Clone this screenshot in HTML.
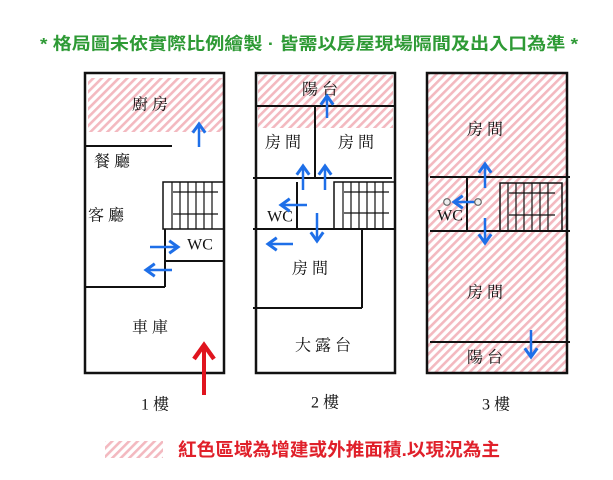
<!DOCTYPE html>
<html><head><meta charset="utf-8"><style>
html,body{margin:0;padding:0;background:#fff;width:613px;height:480px;overflow:hidden}
svg{display:block}
.t{font-family:"Liberation Serif","Noto Serif CJK SC","Noto Sans CJK TC",serif;font-size:16px;fill:#111;text-anchor:middle;dominant-baseline:central}
</style></head><body>
<svg width="613" height="480" viewBox="0 0 613 480" xmlns="http://www.w3.org/2000/svg">
<defs>
<pattern id="h" width="6" height="6" patternUnits="userSpaceOnUse" patternTransform="rotate(45)">
<rect width="6" height="6" fill="#fff"/><rect width="2.6" height="6" fill="#f3b9c0"/>
</pattern>
<marker id="ab" markerWidth="6" markerHeight="6" refX="4" refY="3" orient="auto" markerUnits="strokeWidth"><path d="M0.5,0.5 L4,3 L0.5,5.5" fill="none" stroke="#1e6fe8" stroke-width="1.2"/></marker>
<marker id="ar" markerWidth="6" markerHeight="6" refX="4" refY="3" orient="auto" markerUnits="strokeWidth"><path d="M0.5,0.5 L4,3 L0.5,5.5" fill="none" stroke="#e0141e" stroke-width="1.1"/></marker>
</defs>
<text x="40" y="44" dominant-baseline="central" font-family="Liberation Sans,'Noto Sans CJK TC',sans-serif" font-size="17" font-weight="bold" fill="#2e9a35" textLength="538" lengthAdjust="spacingAndGlyphs">* 格局圖未依實際比例繪製 · 皆需以房屋現場隔間及出入口為準 *</text>

<!-- Floor 1 -->
<rect x="88" y="78" width="136" height="54" fill="url(#h)"/>
<g stroke="#111" fill="none" stroke-width="2">
<rect x="85" y="73" width="139" height="300" stroke-width="2.5"/>
<line x1="85" y1="146" x2="172" y2="146"/>
<rect x="163" y="182" width="61" height="47" stroke-width="1.5"/>
<line x1="165" y1="229" x2="165" y2="287"/>
<line x1="165" y1="261" x2="224" y2="261"/>
<line x1="85" y1="287" x2="165" y2="287"/>
</g>
<g stroke="#111" stroke-width="1.2">
<line x1="172" y1="182" x2="172" y2="229"/><line x1="180" y1="182" x2="180" y2="229"/><line x1="188" y1="182" x2="188" y2="229"/><line x1="196" y1="182" x2="196" y2="229"/><line x1="204" y1="182" x2="204" y2="229"/><line x1="212" y1="182" x2="212" y2="229"/>
<line x1="173" y1="192" x2="218" y2="192"/><line x1="173" y1="214" x2="218" y2="214"/>
</g>
<text class="t" x="150" y="105">廚 房</text>
<text class="t" x="112" y="162">餐 廳</text>
<text class="t" x="106" y="216">客 廳</text>
<text class="t" x="200" y="245">WC</text>
<text class="t" x="150" y="328">車 庫</text>
<g stroke="#1e6fe8" stroke-width="2.5" marker-end="url(#ab)">
<line x1="199" y1="147" x2="199" y2="124"/>
<line x1="150" y1="247" x2="178" y2="247"/>
<line x1="172" y1="270" x2="146" y2="270"/>
</g>
<line x1="204" y1="395" x2="204" y2="345" stroke="#e0141e" stroke-width="4" marker-end="url(#ar)"/>

<!-- Floor 2 -->
<rect x="258" y="75" width="135" height="53" fill="url(#h)"/>
<g stroke="#111" fill="none" stroke-width="2">
<rect x="256" y="73" width="139" height="300" stroke-width="2.5"/>
<line x1="256" y1="106" x2="395" y2="106"/>
<line x1="315" y1="106" x2="315" y2="178"/>
<line x1="253" y1="178" x2="392" y2="178"/>
<rect x="334" y="182" width="61" height="47" stroke-width="1.5"/>
<line x1="253" y1="229" x2="395" y2="229"/>
<line x1="297" y1="182" x2="297" y2="229"/>
<line x1="362" y1="229" x2="362" y2="308"/>
<line x1="253" y1="308" x2="362" y2="308"/>
</g>
<g stroke="#111" stroke-width="1.2">
<line x1="343" y1="182" x2="343" y2="229"/><line x1="351" y1="182" x2="351" y2="229"/><line x1="359" y1="182" x2="359" y2="229"/><line x1="367" y1="182" x2="367" y2="229"/><line x1="375" y1="182" x2="375" y2="229"/><line x1="383" y1="182" x2="383" y2="229"/>
<line x1="344" y1="192" x2="389" y2="192"/><line x1="344" y1="213" x2="389" y2="213"/>
</g>
<text class="t" x="320" y="90">陽 台</text>
<text class="t" x="283" y="143">房 間</text>
<text class="t" x="356" y="143">房 間</text>
<text class="t" x="280" y="217">WC</text>
<text class="t" x="310" y="269">房 間</text>
<text class="t" x="323" y="346">大 露 台</text>
<g stroke="#1e6fe8" stroke-width="2.5" marker-end="url(#ab)">
<line x1="327" y1="118" x2="327" y2="96"/>
<line x1="303" y1="190" x2="303" y2="166"/>
<line x1="325" y1="190" x2="325" y2="166"/>
<line x1="307" y1="205" x2="281" y2="205"/>
<line x1="317" y1="213" x2="317" y2="241"/>
<line x1="293" y1="244" x2="268" y2="244"/>
</g>

<!-- Floor 3 -->
<rect x="427" y="73" width="140" height="300" fill="url(#h)"/>
<g stroke="#111" fill="none" stroke-width="2">
<rect x="427" y="73" width="140" height="300" stroke-width="2.5"/>
<line x1="430" y1="177" x2="570" y2="177"/>
<line x1="430" y1="231" x2="570" y2="231"/>
<line x1="467" y1="177" x2="467" y2="231"/>
<line x1="430" y1="342" x2="570" y2="342"/>
<rect x="500" y="183" width="62" height="48" stroke-width="1.5"/>
</g>
<g stroke="#111" stroke-width="1.2">
<line x1="508" y1="183" x2="508" y2="231"/><line x1="516" y1="183" x2="516" y2="231"/><line x1="524" y1="183" x2="524" y2="231"/><line x1="532" y1="183" x2="532" y2="231"/><line x1="540" y1="183" x2="540" y2="231"/><line x1="548" y1="183" x2="548" y2="231"/>
<line x1="509" y1="193" x2="555" y2="193"/><line x1="509" y1="215" x2="555" y2="215"/>
</g>
<text class="t" x="485" y="130">房 間</text>
<text class="t" x="485" y="293">房 間</text>
<text class="t" x="450" y="216">WC</text>
<text class="t" x="485" y="358">陽 台</text>
<g stroke="#1e6fe8" stroke-width="2.5" marker-end="url(#ab)">
<line x1="485" y1="188" x2="485" y2="164"/>
<line x1="485" y1="218" x2="485" y2="243"/>
<line x1="476" y1="202" x2="454" y2="202"/>
<line x1="531" y1="330" x2="531" y2="357"/>
</g>
<circle cx="447" cy="202" r="3.3" fill="#eee" stroke="#666" stroke-width="1.2"/>
<circle cx="478" cy="202" r="3.3" fill="#eee" stroke="#666" stroke-width="1.2"/>

<text class="t" x="155" y="405" font-size="16">1 樓</text>
<text class="t" x="325" y="403" font-size="16">2 樓</text>
<text class="t" x="496" y="405" font-size="16">3 樓</text>

<rect x="105" y="441" width="58" height="17" fill="url(#h)"/>
<text x="178" y="450" dominant-baseline="central" font-family="Liberation Sans,'Noto Sans CJK TC',sans-serif" font-size="18" font-weight="bold" fill="#e0202a" textLength="322" lengthAdjust="spacingAndGlyphs">紅色區域為增建或外推面積.以現況為主</text>
</svg>
</body></html>
